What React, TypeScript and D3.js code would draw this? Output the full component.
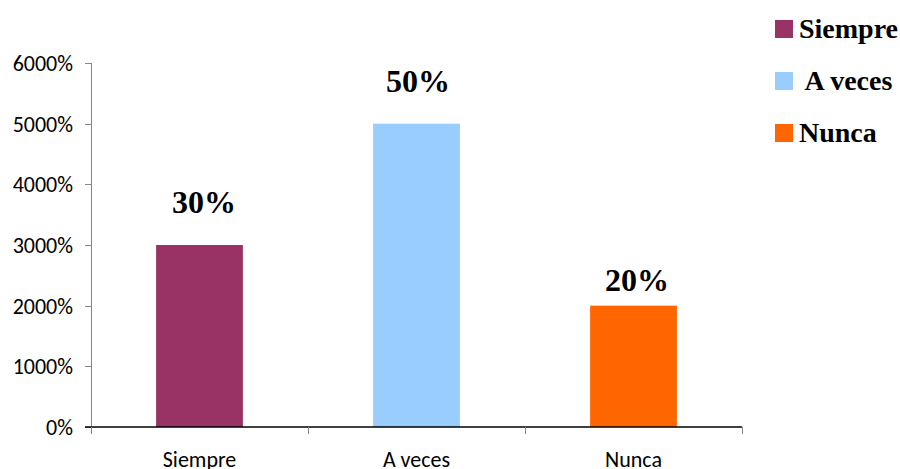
import React from "react";
import * as d3 from "d3";

const categories = ["Siempre", "A veces", "Nunca"];
const values = [30, 50, 20];
const dataLabels = ["30%", "50%", "20%"];
const colors = ["#993366", "#99CCFF", "#FF6600"];
const legendLabels = ["Siempre", " A veces", "Nunca"];
const yTicks = [0, 10, 20, 30, 40, 50, 60];

export default function App() {
  const W = 900, H = 469;
  const left = 91, right = 742, top = 63, bottom = 427;
  const labelLift = [32, 31.5, 15];
  const labelShift = [4.5, 1.5, 3.5];
  const x = d3.scaleBand<string>().domain(categories).range([left, right]).paddingInner(0.6).paddingOuter(0.3);
  const xb = d3.scaleBand<string>().domain(categories).range([left, right]);
  const y = d3.scaleLinear().domain([0, 60]).range([bottom, top]);
  const tickFont = "Carlito, Lato, 'Open Sans', sans-serif";
  const serif = "'Liberation Serif', 'Times New Roman', serif";
  return (
    <svg width={W} height={H} style={{ position: "absolute", left: 0, top: 0, background: "#fff" }}>
      {values.map((v, i) => (
        <rect key={i} x={x(categories[i])} y={y(v)} width={x.bandwidth()} height={y(0) - y(v)} fill={colors[i]} />
      ))}
      <line x1={left + 0.5} x2={left + 0.5} y1={top} y2={bottom + 6} stroke="#868686" strokeWidth={1} />
      {yTicks.map((t) => (
        <g key={t}>
          <line x1={left - 6} x2={left} y1={Math.round(y(t)) + 0.5} y2={Math.round(y(t)) + 0.5} stroke="#868686" />
          <text x={73} y={y(t)} dy="0.36em" textAnchor="end" fontFamily={tickFont} fontSize={22} fill="#000">
            {`${t * 100}%`}
          </text>
        </g>
      ))}
      <line x1={left - 6} x2={right} y1={bottom} y2={bottom} stroke="#000" strokeWidth={1.3} />
      {[...categories.map((c) => xb(c) as number), right].map((px, i) => (
        <line key={i} x1={Math.round(px) + 0.5} x2={Math.round(px) + 0.5} y1={bottom} y2={bottom + 7} stroke="#868686" />
      ))}
      {categories.map((c) => (
        <text key={c} x={(xb(c) as number) + xb.bandwidth() / 2} y={467} textAnchor="middle" fontFamily={tickFont} fontSize={22} fill="#000">
          {c}
        </text>
      ))}
      {values.map((v, i) => (
        <text key={i} x={(x(categories[i]) as number) + x.bandwidth() / 2 + labelShift[i]} y={y(v) - labelLift[i]} textAnchor="middle" fontFamily={serif} fontWeight="bold" fontSize={32} fill="#000">
          {dataLabels[i]}
        </text>
      ))}
      {legendLabels.map((l, i) => (
        <g key={i} transform={`translate(775, ${20 + i * 52})`}>
          <rect x={0} y={0} width={18} height={18} fill={colors[i]} />
          <text x={24} y={17.5} fontFamily={serif} fontWeight="bold" fontSize={28} fill="#000" style={{ whiteSpace: "pre" }}>
            {l}
          </text>
        </g>
      ))}
    </svg>
  );
}
